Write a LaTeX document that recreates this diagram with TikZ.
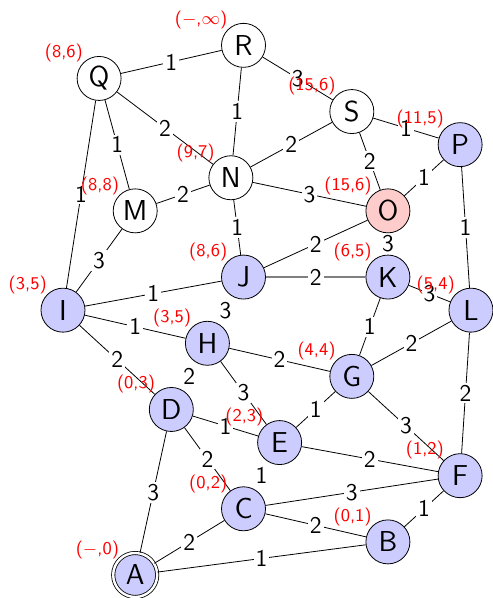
\documentclass[tikz,border=0pt]{standalone}
\usepackage{tikz}

\begin{document}
\begin{tikzpicture}
[x=18.05pt, y=16.55pt, font=\sffamily,%
  vertex/.style={circle, draw, minimum size=22pt, inner sep=0pt, font=\sffamily\Large},%
  openNode/.style={vertex, fill=white},%
  seenNode/.style={vertex, fill=blue!20},%
  activeNode/.style={vertex, fill=red!20},%
  startNode/.style={vertex, fill=blue!20, double, double distance=1.2pt},%
  distLabel/.style={red, inner sep=0pt, anchor=south east, font=\sffamily\small},%
  weight/.style={fill=white, text=black, inner sep=1pt, font=\sffamily\large},%
  treeLine/.style={gray, line width=1pt}]
\useasboundingbox (-1.745,-0.695) rectangle (11.91,17.37);
%% vertices
\foreach \n/\x/\y/\s in {R/5/16/openNode, Q/1/15/openNode, S/8/14/openNode,
  P/11/13/seenNode, N/4.65/12/openNode, M/2/11/openNode, O/9/11/activeNode,
  J/5/9/seenNode, K/9/9/seenNode, I/0/8/seenNode, L/11.3/8/seenNode,
  H/4/7/seenNode, G/8/6/seenNode, D/3/5/seenNode, E/6/4/seenNode,
  F/11/3/seenNode, C/5/2/seenNode, B/9/1/seenNode, A/2/0/startNode}
{
  \node[\s] (\n) at (\x,\y) {\n};
}
%% weighted edges
\foreach \a/\b/\w in {Q/R/1, R/S/3, R/N/1, Q/N/2, Q/M/1, Q/I/1, S/N/2, S/P/1,
  S/O/2, N/M/2, N/O/3, N/J/1, P/O/1, P/L/1, M/I/3, O/J/2, J/I/1, I/H/1, I/D/2,
  K/L/3, K/G/1, L/G/2, L/F/2, H/G/2, H/E/3, G/E/1, G/F/3, D/E/1, E/F/2, D/C/2,
  D/A/3, C/F/3, C/B/2, C/A/2, B/F/1, A/B/1}
{
  \draw (\a) -- node[weight] {\w} (\b);
}
%% edges shown by weight only
\foreach \a/\b/\w in {O/K/3, J/H/3, H/D/2, C/E/1}
{
  \path (\a) -- node[weight] {\w} (\b);
}
\draw[treeLine] (J) -- node[weight] {2} (K);
%% distance labels
\foreach \n/\d in {R/{($-$,$\infty$)}, Q/{(8,6)}, S/{(15,6)}, P/{(11,5)},
  N/{(9,7)}, M/{(8,8)}, O/{(15,6)}, J/{(8,6)}, K/{(6,5)}, I/{(3,5)},
  L/{(5,4)}, H/{(3,5)}, G/{(4,4)}, D/{(0,3)}, E/{(2,3)}, F/{(1,2)},
  C/{(0,2)}, B/{(0,1)}, A/{($-$,0)}}
{
  \node[distLabel] (dist\n) at (\n.north west) {\d};
}
\end{tikzpicture}
\end{document}
